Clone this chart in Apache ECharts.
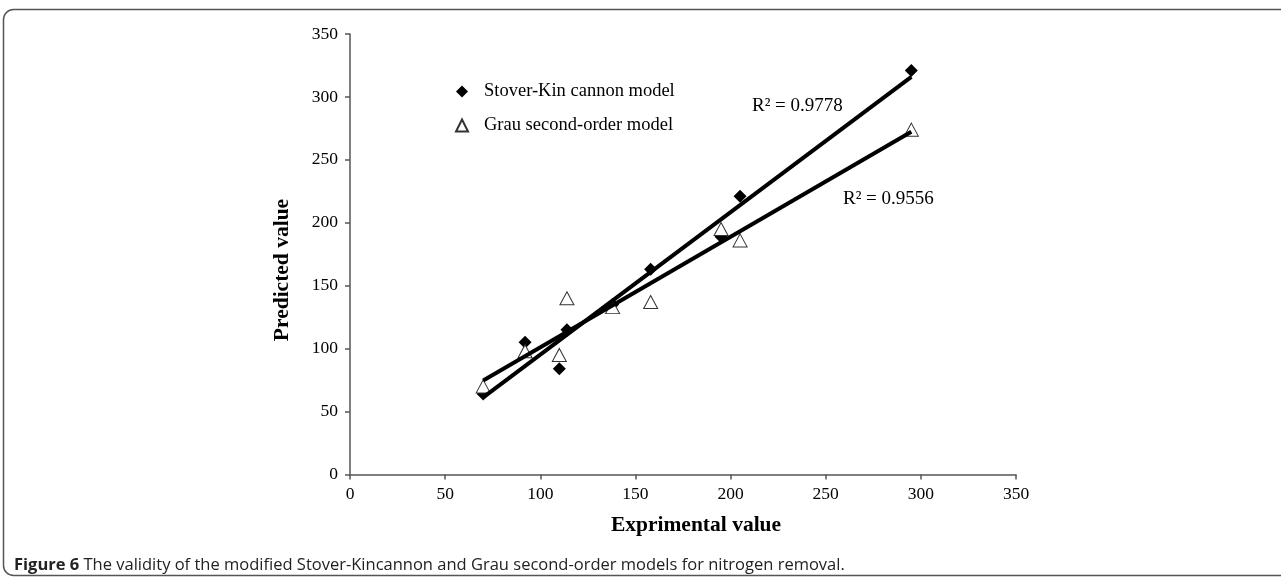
<!DOCTYPE html>
<html>
<head>
<meta charset="utf-8">
<script src="https://cdn.jsdelivr.net/npm/echarts@6/dist/echarts.min.js"></script>
<style>
html,body{margin:0;padding:0;background:#fff;}
#c{width:1281px;height:579px;}
</style>
</head>
<body>
<div id="c"></div>
<script>
// Experimental values (x) shared by both models
const experimental = [70, 92, 110, 114, 138, 158, 195, 205, 295];
// Predicted values
const stoverKincannon = [64, 105, 84, 115, 135, 163, 189, 221, 321];
const grauSecondOrder = [70, 98, 95, 140, 133, 137, 195, 186, 274];
const seriesNames = ['Stover-Kin cannon model', 'Grau second-order model'];
const r2Labels = ['R\u00B2 = 0.9778', 'R\u00B2 = 0.9556'];
const xTicks = [0, 50, 100, 150, 200, 250, 300, 350];
const yTicks = [0, 50, 100, 150, 200, 250, 300, 350];

function pairs(xs, ys) { return xs.map((x, i) => [x, ys[i]]); }
function linearFit(xs, ys) {
  const n = xs.length;
  const mx = xs.reduce((a, b) => a + b, 0) / n;
  const my = ys.reduce((a, b) => a + b, 0) / n;
  let sxy = 0, sxx = 0;
  for (let i = 0; i < n; i++) { sxy += (xs[i] - mx) * (ys[i] - my); sxx += (xs[i] - mx) ** 2; }
  const b = sxy / sxx, a = my - b * mx;
  const x0 = Math.min(...xs), x1 = Math.max(...xs);
  return [[x0, a + b * x0], [x1, a + b * x1]];
}

const serif = '"Liberation Serif", "Times New Roman", serif';
const chart = echarts.init(document.getElementById('c'));
chart.setOption({
  animation: false,
  backgroundColor: '#fff',
  grid: { left: 350, top: 34, right: 265, bottom: 104.5, containLabel: false },
  xAxis: {
    type: 'value', min: xTicks[0], max: xTicks[xTicks.length - 1], interval: 50,
    axisLine: { show: true, lineStyle: { color: '#555', width: 1.5 } },
    axisTick: { show: true, length: 5, lineStyle: { color: '#555', width: 1.5 } },
    axisLabel: { color: '#000', fontFamily: serif, fontSize: 17.5, margin: 11 },
    splitLine: { show: false }
  },
  yAxis: {
    type: 'value', min: yTicks[0], max: yTicks[yTicks.length - 1], interval: 50,
    axisLine: { show: true, lineStyle: { color: '#555', width: 1.5 } },
    axisTick: { show: true, length: 5, lineStyle: { color: '#555', width: 1.5 } },
    axisLabel: { color: '#000', fontFamily: serif, fontSize: 17.5, margin: 12 },
    splitLine: { show: false }
  },
  legend: {
    data: seriesNames,
    orient: 'vertical', left: 455, top: 82, padding: 0,
    itemWidth: 12, itemHeight: 12, itemGap: 15,
    textStyle: { fontFamily: serif, fontSize: 18.5, color: '#000', lineHeight: 18, padding: [0, 0, 0, 11] }
  },
  series: [
    {
      name: seriesNames[0], type: 'scatter', symbol: 'diamond', symbolSize: 13,
      itemStyle: { color: '#000', opacity: 1 }, z: 2,
      data: pairs(experimental, stoverKincannon)
    },
    {
      name: seriesNames[1], type: 'scatter', symbol: 'triangle', symbolSize: [14, 13],
      itemStyle: { color: '#fff', borderColor: '#333', borderWidth: 1, opacity: 1 }, z: 2,
      data: pairs(experimental, grauSecondOrder)
    },
    {
      name: 'fit1', type: 'line', showSymbol: false, symbol: 'none', z: 3,
      lineStyle: { color: '#000', width: 4 }, silent: true,
      data: linearFit(experimental, stoverKincannon)
    },
    {
      name: 'fit2', type: 'line', showSymbol: false, symbol: 'none', z: 3,
      lineStyle: { color: '#000', width: 4 }, silent: true,
      data: linearFit(experimental, grauSecondOrder)
    }
  ],
  graphic: [
    { type: 'rect', shape: { x: 3.5, y: 9.5, width: 1290, height: 566, r: 10 },
      style: { fill: 'none', stroke: '#555', lineWidth: 1.5 }, z: -1 },
    { type: 'text', x: 752, y: 106,
      style: { text: r2Labels[0], font: '19px ' + serif, fill: '#000', textVerticalAlign: 'middle' } },
    { type: 'text', x: 843, y: 199,
      style: { text: r2Labels[1], font: '19px ' + serif, fill: '#000', textVerticalAlign: 'middle' } },
    { type: 'text', x: 696, y: 525,
      style: { text: 'Exprimental value', font: 'bold 21.5px ' + serif, fill: '#000', textAlign: 'center', textVerticalAlign: 'middle' } },
    { type: 'text', x: 282, y: 270, rotation: Math.PI / 2,
      style: { text: 'Predicted value', font: 'bold 21.5px ' + serif, fill: '#000', textAlign: 'center', textVerticalAlign: 'middle' } },
    { type: 'text', x: 14, y: 565,
      style: {
        text: '{b|Figure 6} The validity of the modified Stover-Kincannon and Grau second-order models for nitrogen removal.',
        font: '16.5px "Open Sans", sans-serif', fill: '#222', textVerticalAlign: 'middle',
        rich: { b: { fontWeight: 'bold', fontFamily: '"Open Sans", sans-serif', fontSize: 16.5, fill: '#222' } }
      } }
  ]
});
</script>
</body>
</html>
